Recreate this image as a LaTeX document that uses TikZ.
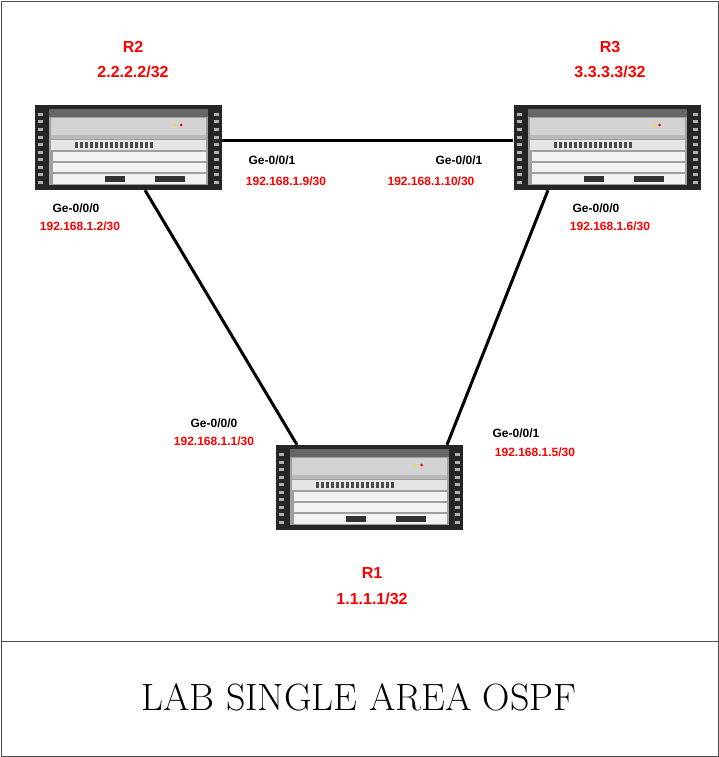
\documentclass[tikz,border=0pt]{standalone}
\usepackage{fontspec}
\newfontfamily\labelfont{Liberation Sans}
\usetikzlibrary{positioning}
\tikzset{
  router/.pic={
    \begin{scope}[shift={(-93.5,-42.5)}]
      \fill[black!85] (0,0) rectangle (187,85);
      \fill[black!60] (14,4) rectangle (173,12);
      \fill[gray!75] (14,12) rectangle (173,80);
      \fill[gray!35] (16,13) rectangle (171,30);
      \fill[gray!55] (16,30) rectangle (171,34);
      \fill[gray!20] (16,35) rectangle (171,45);
      \foreach \i in {0,...,15} \fill[black!70] (40+\i*5,37) rectangle (43+\i*5,43);
      \fill[white!90!gray] (18,47) rectangle (171,56);
      \fill[white!90!gray] (18,58) rectangle (171,67);
      \fill[white!90!gray] (18,69) rectangle (171,79);
      \fill[black!80] (70,71) rectangle (90,77);
      \fill[black!80] (120,71) rectangle (150,77);
      \foreach \j in {0,...,9} {
        \fill[gray!60] (3,8+\j*7.5) rectangle (8,11+\j*7.5);
        \fill[gray!60] (179,8+\j*7.5) rectangle (184,11+\j*7.5);
      }
      \fill[yellow!80!orange] (140,20) circle (1.5);
      \fill[red] (146,20) circle (1.5);
    \end{scope}},
  routerbox/.style={rectangle, minimum width=187pt, minimum height=85pt, inner sep=0pt},
  link/.style={line width=3pt, black},
  hostname/.style={font=\labelfont\bfseries\fontsize{16}{18}\selectfont, text=red},
  portname/.style={font=\labelfont\bfseries\fontsize{12}{14}\selectfont, text=black},
  portaddr/.style={font=\labelfont\bfseries\fontsize{12}{14}\selectfont, text=red}
}
\begin{document}
\begin{tikzpicture}[x=1pt, y=-1pt]
\useasboundingbox (0,0) rectangle (719,757);
\draw[black!70, line width=0.8pt] (1,1) rectangle (718,756);
\draw[black!70, line width=0.8pt] (1,641) -- (718,641);

\pic at (128.5,147.5) {router};
\pic at (607,147.5) {router};
\pic at (369,487.5) {router};
\node[routerbox] (r2) at (128.5,147.5) {};
\node[routerbox] (r3) at (607,147.5) {};
\node[routerbox] (r1) at (369,487.5) {};

\draw[link] ([yshift=7.5pt]r2.east) -- ([yshift=7.5pt]r3.west);
\draw[link] ([xshift=16.5pt]r2.south) -- ([xshift=-72pt]r1.north);
\draw[link] ([xshift=-59pt]r3.south) -- ([xshift=78pt]r1.north);

\node[hostname] (r2name) at (133,47) {R2};
\node[hostname] (r2lo) at (133,72) {2.2.2.2/32};
\node[hostname] (r3name) at (610,47) {R3};
\node[hostname] (r3lo) at (610,72) {3.3.3.3/32};
\node[hostname] (r1name) at (372,573) {R1};
\node[hostname] (r1lo) at (372,599) {1.1.1.1/32};

\node[portname] (r2g1) at (272,160) {Ge-0/0/1};
\node[portaddr] (r2a1) at (286,181) {192.168.1.9/30};
\node[portname] (r3g1) at (459,160) {Ge-0/0/1};
\node[portaddr] (r3a1) at (431,181) {192.168.1.10/30};
\node[portname] (r2g0) at (76,208) {Ge-0/0/0};
\node[portaddr] (r2a0) at (80,226) {192.168.1.2/30};
\node[portname] (r3g0) at (596,208) {Ge-0/0/0};
\node[portaddr] (r3a0) at (610,226) {192.168.1.6/30};
\node[portname] (r1g0) at (214,423) {Ge-0/0/0};
\node[portaddr] (r1a0) at (214,441) {192.168.1.1/30};
\node[portname] (r1g1) at (516,433) {Ge-0/0/1};
\node[portaddr] (r1a1) at (535,452) {192.168.1.5/30};

\node[font=\fontsize{38}{42}\selectfont] (title) at (359,697) {LAB SINGLE AREA OSPF};
\end{tikzpicture}
\end{document}
